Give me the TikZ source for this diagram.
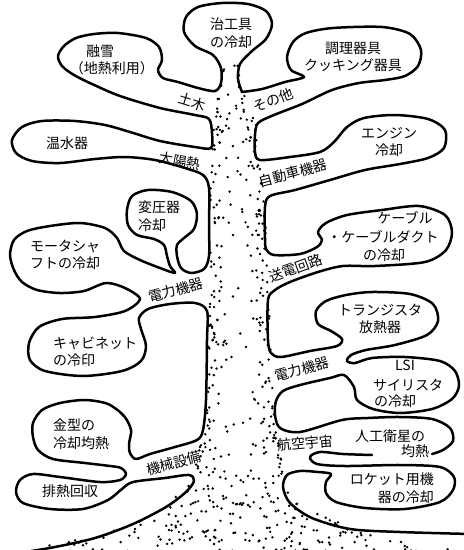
\documentclass[tikz,border=0pt]{standalone}
\usepackage{fontspec}
\setmainfont{Noto Sans CJK JP}
\begin{document}
\begin{tikzpicture}[x=1pt,y=-1pt,
  outline/.style={line width=2.5pt,line cap=round,line join=round},
  lbl/.style={font=\fontsize{14}{17.5}\selectfont,inner sep=0pt},
  dot/.style={fill=black}]
\useasboundingbox (0,0) rectangle (464,550);
\fill[white] (0,0) rectangle (464,550);
% ---------- dotted trunk ----------
\pgfmathsetseed{4242}
\foreach \pya/\pyb/\pla/\plb/\pra/\prb/\pn/\pe in {
  60/92/224/219/237/241/9/1,
  92/125/218/213/243/256/22/1,
  125/200/213/210/257/264/55/1,
  200/300/211/210/265/268/70/1,
  300/440/210/205/270/276/105/1,
  440/470/202/193/278/283/34/1,
  470/500/190/170/285/289/40/0,
  500/530/168/115/290/355/75/0,
  530/552/115/20/355/464/120/0}{
  \foreach \k in {1,...,\pn}{
    \pgfmathsetmacro\qy{\pya+rnd*(\pyb-\pya)}
    \pgfmathsetmacro\qa{(\qy-\pya)/(\pyb-\pya)}
    \pgfmathsetmacro\qxl{\pla+\qa*(\plb-\pla)}
    \pgfmathsetmacro\qxr{\pra+\qa*(\prb-\pra)}
    \pgfmathsetmacro\qw{\qxr-\qxl}
    \pgfmathsetmacro\qt{\pe==1 ? rnd*rnd*0.55 : rnd}
    \pgfmathsetmacro\qx{rnd<0.5 ? \qxl+\qt*\qw : \qxr-\qt*\qw}
    \fill[dot] (\qx,\qy) circle[radius=1.35pt];
  }
}
% ---------- left outline ----------
\draw[outline] plot[smooth,tension=0.5] coordinates {
 (242,92) (238,79) (240,64) (252,51) (266,39) (272,24) (266,11) (248,4) (222,3)
 (198,7) (186,17) (184,32) (195,46) (213,55) (221,68) (221,83) (215,91)
 (198,88) (178,82) (163,78) (158,70) (162,60) (159,47) (146,38) (118,33) (94,34)
 (76,38) (64,46) (58,56) (62,66) (74,75) (92,84) (120,96) (160,108) (195,115)
 (209,119) (212,133) (211,148) (195,147) (160,141) (130,132) (105,125) (75,121)
 (42,121) (22,127) (12,140) (16,153) (32,161) (60,163) (95,159) (125,157)
 (155,160) (185,168) (203,175) (209,188) (209,225) (209,256) (204,269) (191,273)
 (181,268) (177,256) (177,245) (184,238) (194,229) (197,214) (191,201) (172,192)
 (148,190) (132,196) (127,210) (128,225) (137,235) (154,239) (164,245) (167,256)
 (170,266) (175,273) (160,268) (140,260) (124,251) (117,238) (105,228) (80,223)
 (50,226) (27,231) (14,240) (10,255) (14,270) (22,282) (37,290) (60,293) (84,291)
 (106,283) (125,288) (140,299) (125,311) (95,317) (62,319) (39,327) (29,343)
 (30,360) (45,371) (83,376) (122,371) (141,361) (146,346) (141,329) (139,318)
 (148,309) (170,304) (195,303) (207,311) (207,340) (206,400) (203,430) (197,440)
 (175,447) (150,454) (136,459) (130,453) (129,444) (131,430) (124,416) (108,404)
 (85,400) (60,403) (42,410) (33,423) (33,437) (38,450) (53,459) (85,463) (110,466)
 (121,468) (126,474) (120,480) (100,482) (60,477) (33,474) (20,480) (16,492)
 (23,503) (50,509) (83,509) (108,500) (122,489) (133,482) (165,478) (189,475)
 (194,481) (186,492) (166,507) (133,524) (95,538) (55,547) (25,552)};
% ---------- right outline ----------
\draw[outline] plot[smooth,tension=0.5] coordinates {
 (242,92) (262,89) (285,82) (304,77) (291,70) (287,57) (293,42) (306,33) (333,28)
 (382,27) (410,34) (421,50) (418,66) (405,76) (385,80) (359,83) (332,90) (302,104)
 (274,115) (258,123) (255,135) (255,152) (260,160) (290,157) (320,152) (334,142)
 (347,127) (364,118) (395,115) (428,119) (445,130) (444,148) (428,158) (400,164)
 (365,170) (330,180) (295,190) (270,196) (265,207) (265,238) (266,249) (274,255)
 (300,254) (317,247) (322,240) (318,232) (326,223) (347,215) (382,210) (419,206)
 (445,215) (452,232) (446,250) (425,262) (375,266) (343,266) (318,272) (290,282)
 (275,290) (268,300) (268,340) (271,353) (281,357) (310,351) (337,346) (342,339)
 (331,331) (318,324) (316,311) (326,301) (346,295) (372,292) (410,294) (433,304)
 (438,321) (427,335) (395,345) (366,350) (351,355) (347,361) (355,363) (372,358)
 (405,357) (440,361) (455,371) (459,386) (452,399) (432,409) (400,413) (373,409)
 (357,400) (354,387) (344,375) (330,378) (300,385) (283,391) (276,401) (275,415)
 (280,428) (300,432) (342,420) (368,418) (400,417) (432,419) (450,428) (453,441)
 (443,450) (432,454)};
\draw[outline] plot[smooth,tension=0.5] coordinates {
 (372,455) (343,454) (320,452) (310,457) (317,464) (345,466) (400,465) (440,467)
 (454,477) (453,490) (440,502) (405,509) (365,508) (336,502) (326,493) (326,482)
 (331,474) (318,472) (300,471) (287,475) (283,487) (290,503) (312,518) (350,529)
 (400,532) (470,534)};
% ---------- texts ----------
\node[lbl,align=center] (jig) at (231,33) {治工具\\の冷却};
\node[lbl,align=center] (cook) at (353,57) {調理器具\\クッキング器具};
\node[lbl] (snowa) at (100,51) {融雪};
\node[lbl] (snowb) at (112,68) {（地熱利用）};
\node[lbl,rotate=-17] (civil) at (192,102) {土木};
\node[lbl] (heater) at (67,143) {温水器};
\node[lbl,rotate=-10] (solar) at (180,161) {太陽熱};
\node[lbl,rotate=20] (other) at (273,100) {その他};
\node[lbl,align=center] (engine) at (389,142) {エンジン\\冷却};
\node[lbl,rotate=15] (auto) at (293,173) {自動車機器};
\node[lbl,align=left,anchor=west] (trans) at (138,216) {変圧器\\冷却};
\node[lbl,align=left,anchor=west] (motor) at (30,255) {モータシャ\\フトの冷却};
\node[lbl,rotate=15] (powl) at (176,290) {電力機器};
\node[lbl,align=left,anchor=west] (cab) at (53,352) {キャビネット\\の冷印};
\node[lbl,align=left,anchor=west] (mold) at (53,434) {金型の\\冷却均熱};
\node[lbl] (waste) at (70,491) {排熱回収};
\node[lbl,rotate=15] (mach) at (174,463) {機械設備};
\node[lbl] (cablea) at (405,218) {ケーブル};
\node[lbl] (cableb) at (383,237) {・ケーブルダクト};
\node[lbl] (cablec) at (384,255) {の冷却};
\node[lbl,rotate=20] (line) at (296,268) {送電回路};
\node[lbl,align=center] (tr) at (380,319) {トランジスタ\\放熱器};
\node[lbl,rotate=15] (powr) at (302,369) {電力機器};
\node[lbl] (lsi) at (405,365) {LSI};
\node[lbl] (thy) at (408,385) {サイリスタ};
\node[lbl] (thyc) at (395,401) {の冷却};
\node[lbl] (sata) at (390,436) {人工衛星の};
\node[lbl] (satb) at (415,451) {均熱};
\node[lbl,rotate=5] (aero) at (305,443) {航空宇宙};
\node[lbl,align=right,anchor=east] (rocket) at (434,488) {ロケット用機\\器の冷却};
\end{tikzpicture}
\end{document}
